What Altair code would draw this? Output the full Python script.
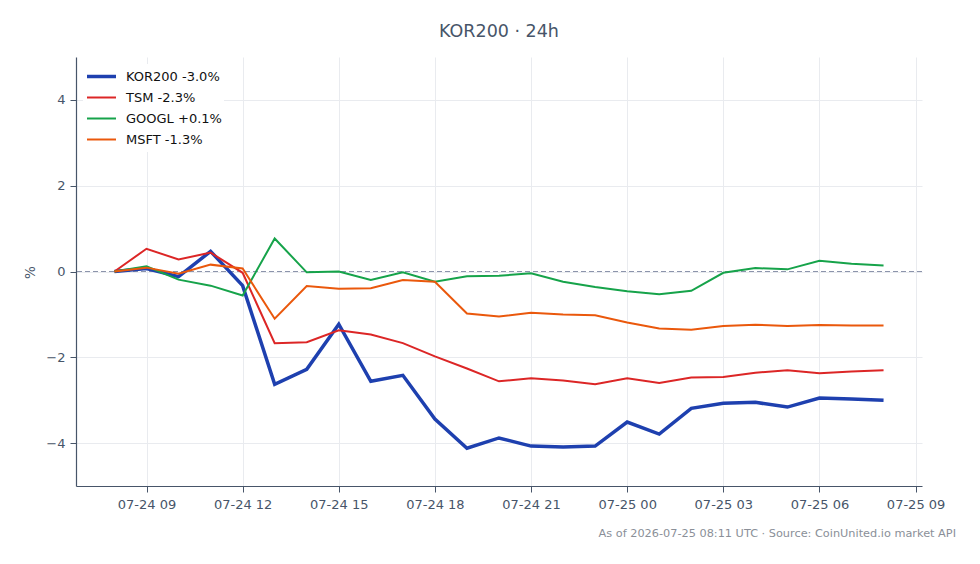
import altair as alt
import pandas as pd

# Hourly timestamps (UTC), 24h window
times = pd.date_range("2026-07-24T08:00:00Z", "2026-07-25T08:00:00Z", freq="h")

# Percent change since start of window
kor200 = [0.00, 0.07, -0.12, 0.47, -0.33, -2.63, -2.28, -1.23, -2.56, -2.42,
          -3.44, -4.12, -3.88, -4.07, -4.09, -4.07, -3.51, -3.79, -3.19, -3.07,
          -3.05, -3.16, -2.95, -2.97, -3.00]
tsm = [0.00, 0.53, 0.28, 0.44, -0.03, -1.67, -1.65, -1.37, -1.47, -1.67,
       -1.98, -2.26, -2.56, -2.49, -2.54, -2.63, -2.49, -2.60, -2.47, -2.46,
       -2.36, -2.30, -2.37, -2.33, -2.30]
googl = [0.00, 0.12, -0.19, -0.33, -0.56, 0.77, -0.02, 0.00, -0.20, -0.02,
         -0.24, -0.11, -0.10, -0.04, -0.24, -0.36, -0.46, -0.53, -0.45, -0.03,
         0.08, 0.05, 0.25, 0.18, 0.14]
msft = [0.00, 0.09, -0.05, 0.16, 0.07, -1.10, -0.34, -0.40, -0.39, -0.20,
        -0.24, -0.98, -1.05, -0.96, -1.00, -1.02, -1.19, -1.33, -1.36, -1.27,
        -1.24, -1.27, -1.25, -1.26, -1.26]

series_names = ["KOR200", "TSM", "GOOGL", "MSFT"]
series_values = [kor200, tsm, googl, msft]
series_colors = ["#1e40af", "#dc2626", "#16a34a", "#ea580c"]
series_widths = [3.5, 2.0, 2.0, 2.0]

title_text = "KOR200 · 24h"
note_text = "As of 2026-07-25 08:11 UTC · Source: CoinUnited.io market API"

tick_values = [alt.DateTime(year=2026, month=7, date=d, hours=h, utc=True)
               for d, h in [(24, 9), (24, 12), (24, 15), (24, 18), (24, 21),
                            (25, 0), (25, 3), (25, 6), (25, 9)]]


def legend_label(name, vals):
    last = vals[-1]
    sign = "+" if last >= 0 else "-"
    return f"{name} {sign}{abs(last):.1f}%"


labels = [legend_label(n, v) for n, v in zip(series_names, series_values)]

rows = []
for lab, vals in zip(labels, series_values):
    for t, v in zip(times, vals):
        rows.append({"t": t.strftime("%Y-%m-%dT%H:%M:%SZ"), "pct": v, "series": lab})
df = pd.DataFrame(rows)

text_color = "#475569"
W, H = 846, 429

x_enc = alt.X(
    "t:T",
    scale=alt.Scale(type="utc",
                    domain=[alt.DateTime(year=2026, month=7, date=24, hours=6, minutes=48, utc=True),
                            alt.DateTime(year=2026, month=7, date=25, hours=9, minutes=12, utc=True)]),
    axis=alt.Axis(values=tick_values, labelExpr="utcFormat(datum.value, '%m-%d %H')",
                  title=None, labelFontSize=13, labelColor=text_color, labelPadding=6,
                  tickSize=6, tickColor=text_color, domainColor=text_color,
                  domainWidth=1.2, gridColor="#e9ebef", labelFont="DejaVu Sans"),
)
y_enc = alt.Y(
    "pct:Q",
    scale=alt.Scale(domain=[-5, 5], nice=False, zero=False),
    axis=alt.Axis(values=[-4, -2, 0, 2, 4], title="%", titleFontSize=13.5,
                  titleFontWeight="normal", titleColor=text_color, titleX=-46, titleY=215,
                  titleAngle=-90, titleAlign="center", titleBaseline="middle",
                  labelFontSize=13, labelColor=text_color, labelPadding=5,
                  tickSize=6, tickColor=text_color, domainColor=text_color,
                  domainWidth=1.2, gridColor="#e9ebef", labelFont="DejaVu Sans",
                  titleFont="DejaVu Sans"),
)

lines = alt.Chart(df).mark_line(strokeJoin="miter", strokeCap="butt").encode(
    x=x_enc,
    y=y_enc,
    color=alt.Color("series:N", sort=labels,
                    scale=alt.Scale(domain=labels, range=series_colors),
                    legend=alt.Legend(title=None, orient="none", legendX=7, legendY=7,
                                      symbolType="stroke", symbolSize=840,
                                      clipHeight=21, rowPadding=0,
                                      labelFontSize=13, labelColor="#111111",
                                      labelFont="DejaVu Sans",
                                      labelOffset=8, fillColor="white",
                                      padding=2)),
    strokeWidth=alt.StrokeWidth("series:N", sort=labels,
                                scale=alt.Scale(type="ordinal", domain=labels,
                                                range=series_widths),
                                legend=None),
    detail="series:N",
)

zero_df = pd.DataFrame({"y0": [0.0]})
zero_line = alt.Chart(zero_df).mark_rule(color="#8c94ab", strokeWidth=1.1,
                                         strokeDash=[5, 3]).encode(y="y0:Q")

note_df = pd.DataFrame({"note": [note_text]})
note = alt.Chart(note_df).mark_text(align="right", baseline="middle", fontSize=11.3,
                                    color="#8a8f98", font="DejaVu Sans").encode(
    text="note:N", x=alt.value(880), y=alt.value(477))

chart = alt.layer(zero_line, lines, note).properties(
    width=W, height=H,
    title=alt.TitleParams(title_text, fontSize=17.5, color=text_color, fontWeight="normal",
                          font="DejaVu Sans", anchor="middle", offset=17),
    autosize=alt.AutoSizeParams(type="none"),
    padding={"left": 76, "top": 57, "right": 58, "bottom": 78},
    background="white",
).configure_view(stroke=None)

chart.save("out.html", embed_options={"renderer": "svg", "actions": False})
